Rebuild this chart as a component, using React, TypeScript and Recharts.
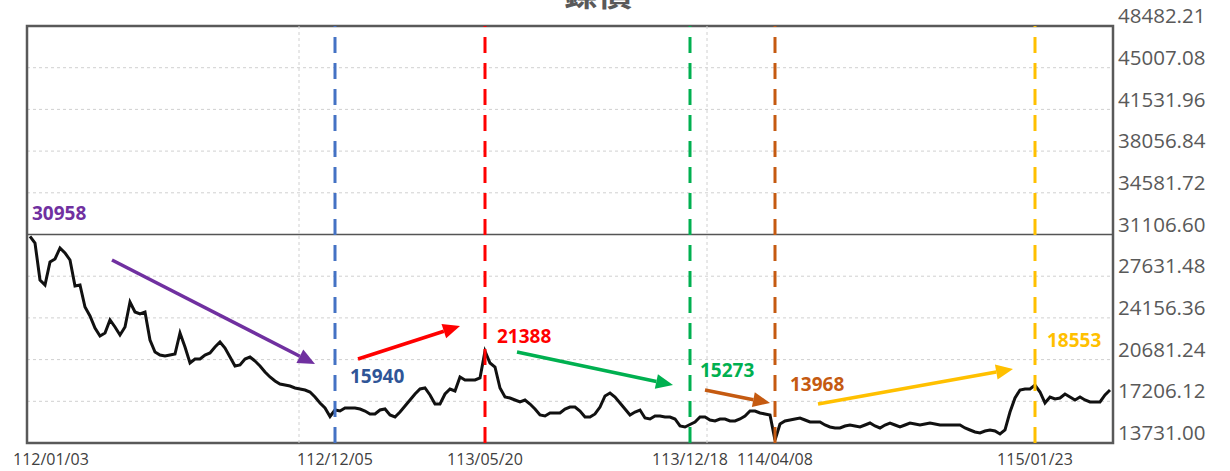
import React from "react";
import {
  LineChart,
  Line,
  XAxis,
  YAxis,
  CartesianGrid,
  ReferenceLine,
  ReferenceArea,
  ReferenceDot,
} from "recharts";

// nickel price, one reading every ~5 trading days, 112/01/03 .. 115/02
const prices = [
  30958, 30399, 27315, 26899, 28816, 29066, 29982, 29566, 28982, 26815,
  26899, 25065, 24315, 23315, 22648, 22898, 23982, 23398, 22732, 23398,
  25482, 24649, 24482, 24649, 22315, 21315, 21065, 20982, 21065, 21148,
  22898, 21732, 20398, 20732, 20732, 21065, 21232, 21732, 22148, 21648,
  20898, 20148, 20232, 20732, 20898, 20565, 20148, 19648, 19231, 18898,
  18648, 18565, 18481, 18315, 18231, 18148, 17981, 17565, 17065, 16648,
  15940, 16481, 16398, 16648, 16648, 16648, 16565, 16398, 16148, 16148,
  16481, 16565, 16065, 15898, 16315, 16815, 17315, 17815, 18231, 18315,
  17731, 16981, 16981, 17815, 18231, 18065, 19231, 18981, 18981, 18981,
  19148, 21388, 20398, 20065, 18315, 17565, 17481, 17315, 17148, 17315,
  16981, 16565, 16065, 15981, 16231, 16231, 16231, 16565, 16731, 16731,
  16398, 15898, 15898, 16148, 16731, 17648, 17898, 17565, 17065, 16565,
  16065, 16315, 16481, 15815, 15731, 15981, 15981, 15898, 15898, 15731,
  15148, 15064, 15273, 15481, 15898, 15898, 15648, 15564, 15731, 15731,
  15564, 15564, 15731, 15981, 16398, 16398, 16231, 16148, 16065, 13968,
  15314, 15564, 15648, 15731, 15815, 15648, 15481, 15481, 15481, 15231,
  15064, 14981, 14981, 15148, 15231, 15148, 15064, 15231, 15398, 15148,
  14981, 15231, 15398, 15231, 15064, 15231, 15398, 15314, 15231, 15314,
  15398, 15314, 15231, 15231, 15231, 15231, 15231, 14981, 14814, 14648,
  14564, 14731, 14814, 14731, 14481, 14814, 16315, 17481, 18148, 18231,
  18231, 18553, 17981, 17065, 17565, 17398, 17481, 17815, 17565, 17315,
  17565, 17315, 17148, 17148, 17148, 17731, 18148,
];

const tickIdx = [0, 61, 91, 132, 149, 201];
const tickLabels = ["112/01/03", "112/12/05", "113/05/20", "113/12/18", "114/04/08", "115/01/23"];

const yTicks = [
  13731.0, 17206.12, 20681.24, 24156.36, 27631.48, 31106.6, 34581.72, 38056.84,
  41531.96, 45007.08, 48482.21,
];

const eventIdx = [61, 91, 132, 149, 201];
const eventColors = ["#4472C4", "#FF0000", "#00B050", "#C55A11", "#FFC000"];

const calloutTexts = ["30958", "15940", "21388", "15273", "13968", "18553"];
const calloutColors = ["#7030A0", "#2F5597", "#FF0000", "#00B050", "#C55A11", "#FFC000"];
const calloutAt = [
  [0.4, 32899],
  [64, 19315],
  [93.4, 22648],
  [134, 19815],
  [152, 18648],
  [203.4, 22315],
];

const arrowColors = ["#7030A0", "#FF0000", "#00B050", "#C55A11", "#FFC000"];
const arrowAt = [
  [16.4, 28982, 57, 20315],
  [65.6, 20732, 86, 23482],
  [97.4, 21315, 128.6, 18565],
  [135, 18148, 148, 17065],
  [157.6, 16981, 196.6, 19898],
];

const data = prices.map((price, i) => ({ i, price }));

const FONT = "'Open Sans', 'Noto Sans', sans-serif";

const YTick = (props: any) => {
  const { x, y, payload } = props;
  return (
    <text x={x} y={y - 10} dy="0.35em" textAnchor="start" fontSize={20.5} fill="#595959" fontFamily={FONT}>
      {Number(payload.value).toFixed(2)}
    </text>
  );
};

const XTick = (props: any) => {
  const { x, y, payload, index } = props;
  const first = index === 0;
  return (
    <text
      x={first ? x - 17 : x}
      y={y + 14}
      dy="0.35em"
      textAnchor={first ? "start" : "middle"}
      fontSize={16}
      fill="#404040"
      fontFamily={FONT}
    >
      {tickLabels[tickIdx.indexOf(payload.value)]}
    </text>
  );
};

const arrowShape = (color: string) => (props: any) => {
  const { x1, y1, x2, y2 } = props;
  const a = Math.atan2(y2 - y1, x2 - x1);
  const L = 17;
  const W = 7.5;
  const bx = x2 - L * Math.cos(a);
  const by = y2 - L * Math.sin(a);
  const pts = `${x2},${y2} ${bx + W * Math.sin(a)},${by - W * Math.cos(a)} ${bx - W * Math.sin(a)},${by + W * Math.cos(a)}`;
  return (
    <g>
      <line x1={x1} y1={y1} x2={bx} y2={by} stroke={color} strokeWidth={3.5} />
      <polygon points={pts} fill={color} />
    </g>
  );
};

export default function App() {
  return (
    <div style={{ position: "absolute", left: 0, top: 0, width: 1230, height: 471, background: "#fff", overflow: "hidden" }}>
      <div
        style={{
          position: "absolute",
          left: 0,
          width: 1196,
          top: -25,
          textAlign: "center",
          fontSize: 34,
          lineHeight: "34px",
          fontWeight: 700,
          color: "#595959",
          fontFamily: "'Noto Sans CJK TC', sans-serif",
        }}
      >
        鎳價
      </div>
      <LineChart
        width={1230}
        height={471}
        data={data}
        margin={{ top: 26, right: 7, bottom: 0, left: 27 }}
      >
        <CartesianGrid vertical={false} stroke="#d0d0d0" strokeDasharray="3 3" />
        <XAxis
          dataKey="i"
          type="number"
          domain={[-0.6, 216.6]}
          ticks={tickIdx}
          tick={<XTick />}
          tickLine={false}
          axisLine={false}
          tickSize={0}
          height={28}
          interval={0}
        />
        <YAxis
          orientation="right"
          type="number"
          domain={[13731, 48482.21]}
          ticks={yTicks}
          tick={<YTick />}
          tickLine={false}
          axisLine={false}
          tickSize={0}
          tickMargin={5}
          width={110}
          interval={0}
          allowDataOverflow
        />
        <ReferenceLine x={53.8} stroke="#d0d0d0" strokeDasharray="3 3" />
        <ReferenceLine x={135.4} stroke="#d0d0d0" strokeDasharray="3 3" />
        <ReferenceLine y={31106.6} stroke="#555555" strokeWidth={1.5} />
        <Line
          dataKey="price"
          stroke="#111111"
          strokeWidth={3}
          dot={false}
          type="linear"
          isAnimationActive={false}
        />
        {eventIdx.map((ix, k) => (
          <ReferenceLine key={`ev${k}`} x={ix} stroke={eventColors[k]} strokeWidth={3} strokeDasharray="16 10" />
        ))}
        {arrowAt.map((s, k) => (
          <ReferenceLine
            key={`ar${k}`}
            segment={[{ x: s[0], y: s[1] }, { x: s[2], y: s[3] }]}
            shape={arrowShape(arrowColors[k])}
            ifOverflow="visible"
          />
        ))}
        {calloutAt.map((c, k) => (
          <ReferenceDot
            key={`lb${k}`}
            x={c[0]}
            y={c[1]}
            r={0}
            ifOverflow="visible"
            shape={(p: any) => (
              <text x={p.cx} y={p.cy} dy="0.35em" textAnchor="start" fontSize={19} fontWeight={700} fill={calloutColors[k]} fontFamily={FONT}>
                {calloutTexts[k]}
              </text>
            )}
          />
        ))}
        <ReferenceArea
          x1={-0.6}
          x2={216.6}
          y1={13731}
          y2={48482.21}
          fill="none"
          stroke="#595959"
          strokeWidth={2.5}
          ifOverflow="visible"
        />
      </LineChart>
    </div>
  );
}
